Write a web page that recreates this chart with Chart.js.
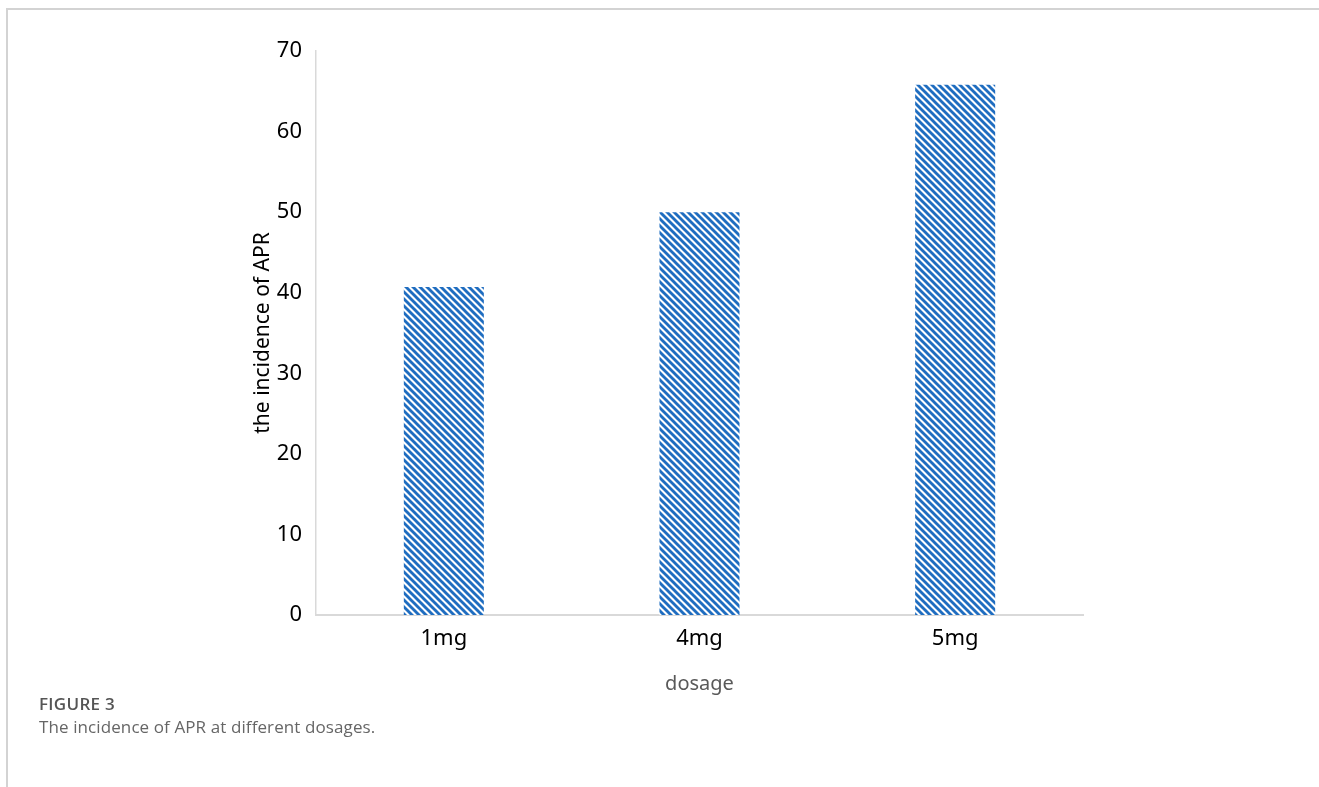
<!DOCTYPE html>
<html>
<head>
<meta charset="utf-8">
<script src="https://cdn.jsdelivr.net/npm/chart.js@4/dist/chart.umd.min.js"></script>
<style>
  html, body { margin: 0; padding: 0; background: #fff; width: 1319px; height: 787px; overflow: hidden; }
  #frame { position: absolute; left: 6px; top: 8px; right: 0; bottom: 0; border-top: 2px solid #d3d3d3; border-left: 2px solid #d3d3d3; }
  #wrap { position: absolute; left: 0; top: 0; width: 1319px; height: 787px; }
  .cap1 { position: absolute; left: 39px; top: 692px; font-family: "Open Sans", sans-serif; font-weight: 600; font-size: 17px; color: #555; letter-spacing: 0.3px; }
  .cap2 { position: absolute; left: 39px; top: 715px; font-family: "Open Sans", sans-serif; font-size: 17px; color: #666; letter-spacing: 0.1px; }
</style>
</head>
<body>
<div id="frame"></div>
<div id="wrap"><canvas id="c" width="1319" height="787"></canvas></div>
<div class="cap1">FIGURE 3</div>
<div class="cap2">The incidence of APR at different dosages.</div>
<script>
const categories = ["1mg", "4mg", "5mg"];
const incidence = [40.7, 50.0, 65.8];
const yTicks = [0, 10, 20, 30, 40, 50, 60, 70];
const xTitle = "dosage";
const yTitle = "the incidence of APR";

function stripePattern(color) {
  const s = 7;
  const t = document.createElement('canvas');
  t.width = s; t.height = s;
  const g = t.getContext('2d');
  g.fillStyle = '#fff';
  g.fillRect(0, 0, s, s);
  g.strokeStyle = color;
  g.lineWidth = 2.9;
  for (const k of [-s, 0, s]) {
    g.beginPath();
    g.moveTo(k - 1, -1);
    g.lineTo(k + s + 1, s + 1);
    g.stroke();
  }
  return document.getElementById('c').getContext('2d').createPattern(t, 'repeat');
}

const tickFont = { family: "'Noto Sans', 'Open Sans', sans-serif", size: 22 };

new Chart(document.getElementById('c'), {
  type: 'bar',
  data: {
    labels: categories,
    datasets: [{
      data: incidence,
      backgroundColor: stripePattern('#1f6dc0'),
      borderWidth: 0,
      categoryPercentage: 1,
      barPercentage: 0.313
    }]
  },
  options: {
    responsive: false,
    animation: false,
    layout: { padding: { left: 240, top: 51, right: 236, bottom: 77 } },
    plugins: { legend: { display: false }, tooltip: { enabled: false } },
    scales: {
      x: {
        grid: { display: false, drawTicks: false },
        border: { display: true, color: '#d9d9d9', width: 2 },
        ticks: { color: '#000', font: tickFont, padding: 11 },
        title: { display: true, text: xTitle, color: '#595959', font: { family: "'Noto Sans', sans-serif", size: 20 }, padding: { top: 0, bottom: 14 } },
        afterFit: s => { s.height = 95; }
      },
      y: {
        min: 0, max: 70,
        afterBuildTicks: s => { s.ticks = yTicks.map(v => ({ value: v })); },
        grid: { display: false, drawTicks: false },
        border: { display: true, color: '#d9d9d9', width: 1.5 },
        ticks: { color: '#000', font: tickFont, padding: 14 },
        title: { display: true, text: yTitle, color: '#000', font: { family: "'Noto Sans', sans-serif", size: 21 }, padding: { top: 10, bottom: 0 } },
        afterFit: s => { s.width = 76; }
      }
    }
  }
});
</script>
</body>
</html>
